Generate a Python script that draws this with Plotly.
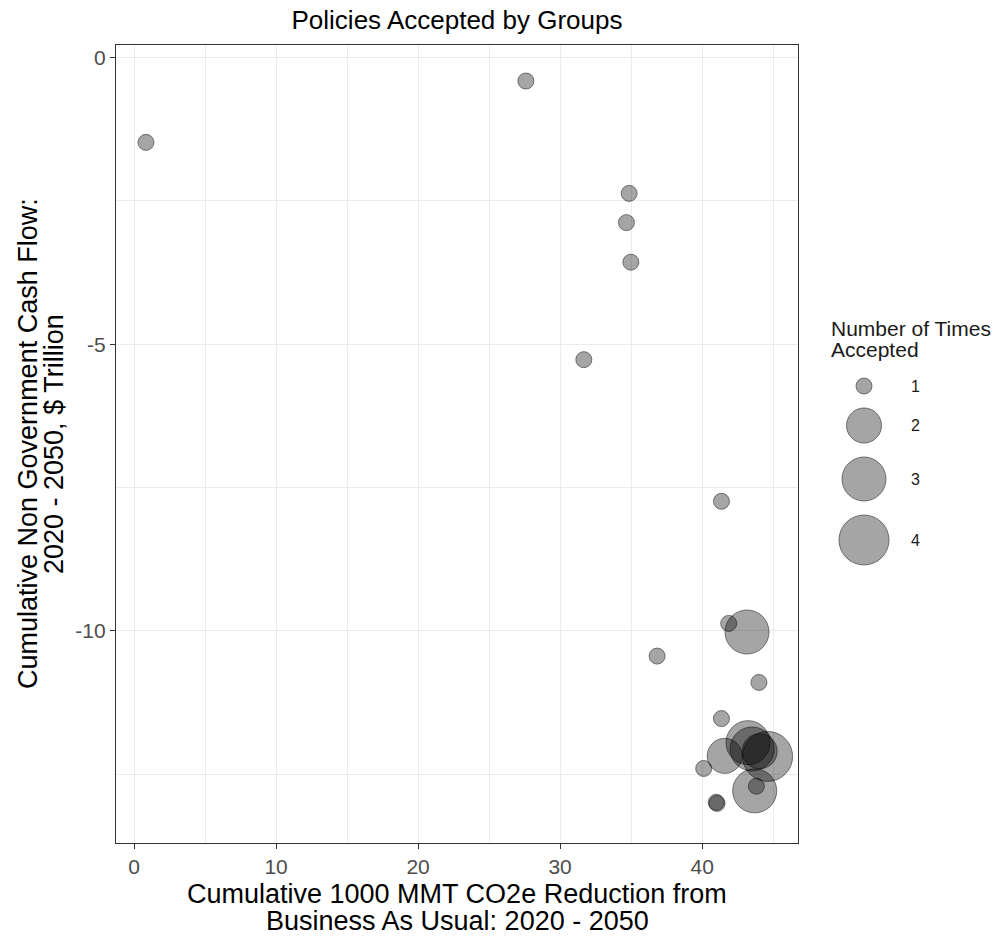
import plotly.graph_objects as go

# ---- data ----
co2_reduction = [0.84, 27.59, 34.86, 34.67, 34.98, 31.67, 41.36, 41.87, 43.16, 36.83,
                 44.00, 41.36, 41.59, 43.23, 43.52, 44.05, 44.61, 40.11, 43.70, 43.82,
                 40.99, 41.05]
cash_flow = [-1.48, -0.41, -2.37, -2.88, -3.57, -5.27, -7.74, -9.87, -10.02, -10.44,
             -10.90, -11.53, -12.18, -11.95, -12.06, -12.10, -12.19, -12.40, -12.79, -12.71,
             -12.99, -13.01]
times_accepted = [1, 1, 1, 1, 1, 1, 1, 1, 3, 1,
                  1, 1, 2, 3, 3, 2, 4, 1, 3, 1,
                  1, 1]
legend_counts = [1, 2, 3, 4]
x_ticks = [0, 10, 20, 30, 40]
y_ticks = [0, -5, -10]

# ---- style ----
FONT = "Liberation Sans, Arial, sans-serif"
DIAM = {1: 17, 2: 36, 3: 45, 4: 51}   # outer diameter in px per count
W, H = 998, 936
L, R, T, B = 116, 0, 45, 93
PLOT_RIGHT = 798
paper_w = W - L - R
paper_h = H - T - B
main_dom = (PLOT_RIGHT - L) / paper_w

def px_x(px):
    return (px - L) / paper_w

def px_y(py):
    return (H - B - py) / paper_h

fill = "rgba(0,0,0,0.5)"
edge = "rgba(0,0,0,0.75)"

fig = go.Figure()
fig.add_trace(go.Scatter(
    x=co2_reduction, y=cash_flow, mode="markers",
    marker=dict(size=[DIAM[n] - 1 for n in times_accepted], color=fill,
                line=dict(color=edge, width=1)),
    showlegend=False, hoverinfo="skip", xaxis="x", yaxis="y"))

# legend drawn on its own pixel-scaled axes
centers = []
c = 386
prev_h = None
for n in legend_counts:
    h = DIAM[n] + 13
    if prev_h is not None:
        c += (prev_h + h) / 2
    centers.append(c)
    prev_h = h
fig.add_trace(go.Scatter(
    x=[864] * len(legend_counts), y=centers, mode="markers",
    marker=dict(size=[DIAM[n] - 1 for n in legend_counts], color=fill,
                line=dict(color=edge, width=1)),
    showlegend=False, hoverinfo="skip", xaxis="x2", yaxis="y2"))

annotations = []
for n, cy in zip(legend_counts, centers):
    annotations.append(dict(x=909, y=cy, xref="x2", yref="y2", text=str(n),
                            showarrow=False, xanchor="left", yanchor="middle",
                            font=dict(family=FONT, size=16, color="#1a1a1a")))
annotations.append(dict(x=829, y=328, xref="x2", yref="y2", text="Number of Times",
                        showarrow=False, xanchor="left", yanchor="middle",
                        font=dict(family=FONT, size=21, color="#1a1a1a")))
annotations.append(dict(x=829, y=349, xref="x2", yref="y2", text="Accepted",
                        showarrow=False, xanchor="left", yanchor="middle",
                        font=dict(family=FONT, size=21, color="#1a1a1a")))

# axis titles (two lines each, tight ggplot-like spacing)
xc = main_dom / 2
annotations.append(dict(x=xc, y=px_y(894), xref="paper", yref="paper",
                        text="Cumulative 1000 MMT CO2e Reduction from", showarrow=False,
                        xanchor="center", yanchor="middle",
                        font=dict(family=FONT, size=27, color="black")))
annotations.append(dict(x=xc, y=px_y(921), xref="paper", yref="paper",
                        text="Business As Usual: 2020 - 2050", showarrow=False,
                        xanchor="center", yanchor="middle",
                        font=dict(family=FONT, size=27, color="black")))
yc = px_y(444)
annotations.append(dict(x=px_x(28), y=yc, xref="paper", yref="paper",
                        text="Cumulative Non Government Cash Flow:", showarrow=False,
                        textangle=-90, xanchor="center", yanchor="middle",
                        font=dict(family=FONT, size=27, color="black")))
annotations.append(dict(x=px_x(54), y=yc, xref="paper", yref="paper",
                        text="2020 - 2050, $ Trillion", showarrow=False,
                        textangle=-90, xanchor="center", yanchor="middle",
                        font=dict(family=FONT, size=27, color="black")))

grid = "#ebebeb"
axis_common = dict(showline=True, mirror=True, linecolor="#333333", linewidth=1.2,
                   ticks="outside", ticklen=5, tickcolor="#333333", tickwidth=1.2,
                   showgrid=True, gridcolor=grid, gridwidth=1.2, zeroline=False,
                   tickfont=dict(family=FONT, size=21, color="#4d4d4d"))

fig.update_layout(
    width=W, height=H,
    margin=dict(l=L, r=R, t=T, b=B, pad=0),
    paper_bgcolor="white", plot_bgcolor="white",
    title=dict(text="Policies Accepted by Groups", x=xc, xref="paper",
               xanchor="center", y=1 - 20 / H, yref="container", yanchor="middle",
               font=dict(family=FONT, size=26, color="black")),
    xaxis=dict(domain=[0, main_dom], range=[-1.27, 46.75], tickvals=x_ticks,
               ticktext=[str(v) for v in x_ticks],
               minor=dict(tickvals=[5, 15, 25, 35, 45], showgrid=True, gridcolor=grid,
                          gridwidth=0.7, ticks=""),
               anchor="y", **axis_common),
    yaxis=dict(domain=[0, 1], range=[-13.70, 0.218], tickvals=y_ticks,
               ticktext=[str(v) for v in y_ticks],
               minor=dict(tickvals=[-2.5, -7.5, -12.5], showgrid=True, gridcolor=grid,
                          gridwidth=0.7, ticks=""),
               anchor="x", **axis_common),
    xaxis2=dict(domain=[px_x(820), 1], range=[820, 998], visible=False, anchor="y2",
                fixedrange=True),
    yaxis2=dict(domain=[px_y(580), px_y(300)], range=[580, 300], visible=False,
                anchor="x2", fixedrange=True),
    annotations=annotations,
    showlegend=False,
)

fig.write_html("out.html")
